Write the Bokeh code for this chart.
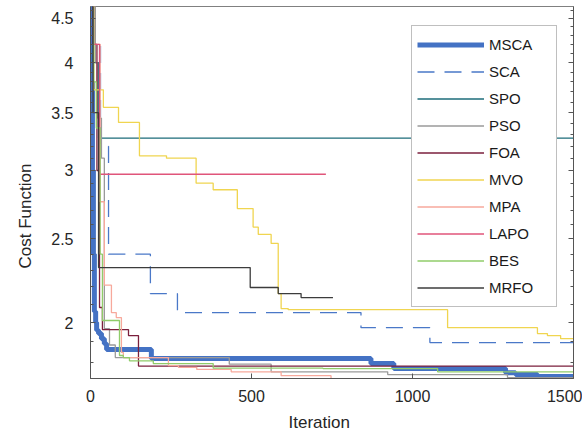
from bokeh.plotting import figure
from bokeh.models import Range1d, FixedTicker, LogAxis, Legend, LegendItem, CustomJSTickFormatter, Title
from bokeh.embed import file_html
from bokeh.resources import INLINE

# ---- data (iteration at which value starts, value) ----
MSCA_it = [0, 3, 6, 9, 12, 16, 19, 25, 34, 43, 50, 189, 871, 942, 1289, 1320, 1388, 1500]
MSCA_val = [4.7, 3.8, 3.0, 2.4, 2.06, 2.0, 1.96, 1.942, 1.916, 1.89, 1.861, 1.817, 1.793, 1.769, 1.750, 1.741, 1.732, 1.732]

SCA_it = [0, 10, 31, 56, 186, 270, 840, 1054, 1500]
SCA_val = [4.7, 4.2, 3.2, 2.40, 2.16, 2.054, 1.973, 1.896, 1.896]

SPO_it = [0, 8, 25, 1500]
SPO_val = [4.7, 4.0, 3.27, 3.27]

PSO_it = [0, 15, 22, 34, 43, 59, 77, 431, 561, 923, 1295, 1500]
PSO_val = [4.7, 4.0, 3.45, 3.1, 1.968, 1.884, 1.822, 1.79, 1.754, 1.741, 1.727, 1.727]

FOA_it = [0, 8, 20, 28, 37, 118, 149, 1500]
FOA_val = [4.7, 4.2, 3.0, 2.082, 1.963, 1.932, 1.781, 1.781]

MVO_it = [0, 10, 40, 87, 152, 236, 328, 381, 456, 505, 521, 561, 583, 592, 614, 1109, 1388, 1419, 1460, 1500]
MVO_val = [4.7, 3.72, 3.55, 3.41, 3.12, 3.10, 2.90, 2.85, 2.71, 2.58, 2.53, 2.47, 2.16, 2.076, 2.07, 1.973, 1.942, 1.932, 1.916, 1.916]

MPA_it = [0, 10, 30, 43, 65, 80, 96, 102, 242, 273, 330, 437, 592, 747, 800]
MPA_val = [4.7, 4.2, 2.76, 2.21, 2.054, 2.027, 1.847, 1.822, 1.783, 1.775, 1.765, 1.754, 1.736, 1.722, 1.718]

LAPO_it = [0, 10, 28, 731]
LAPO_val = [4.7, 4.2, 2.97, 2.97]

BES_it = [0, 10, 18, 30, 37, 90, 102, 121, 195, 381, 722, 1078, 1500]
BES_val = [4.7, 3.8, 3.36, 2.4, 2.011, 1.832, 1.822, 1.806, 1.793, 1.771, 1.769, 1.754, 1.754]

MRFO_it = [0, 8, 25, 496, 583, 654, 753]
MRFO_val = [4.7, 3.5, 2.316, 2.196, 2.161, 2.138, 2.138]

x_ticks = [0, 500, 1000, 1500]
y_ticks = [2, 2.5, 3, 3.5, 4, 4.5]
y_minor = [1.8, 1.9, 2.1, 2.2, 2.3, 2.4, 2.6, 2.7, 2.8, 2.9, 3.1, 3.2, 3.3, 3.4,
           3.6, 3.7, 3.8, 3.9, 4.1, 4.2, 4.3, 4.4, 4.6]

FONT = "Liberation Sans"
AXC = "#555555"

p = figure(width=582, height=439, x_range=Range1d(0, 1500), y_range=Range1d(1.723, 4.645),
           y_axis_type="log", output_backend="svg", toolbar_location=None,
           min_border_left=89, min_border_right=9, min_border_top=6, min_border_bottom=61)
p.grid.visible = False
p.outline_line_color = "#808080"
p.background_fill_color = "white"
p.border_fill_color = "white"

series = [
    ("MSCA", MSCA_it, MSCA_val, "#4472c4", 5, "solid"),
    ("SCA", SCA_it, SCA_val, "#4a78c8", 1.3, "17 10"),
    ("SPO", SPO_it, SPO_val, "#1d6c7a", 1.3, "solid"),
    ("PSO", PSO_it, PSO_val, "#9a9a9a", 1.3, "solid"),
    ("FOA", FOA_it, FOA_val, "#7b1f3c", 1.3, "solid"),
    ("MVO", MVO_it, MVO_val, "#f0d550", 1.3, "solid"),
    ("MPA", MPA_it, MPA_val, "#f7a99c", 1.3, "solid"),
    ("LAPO", LAPO_it, LAPO_val, "#e0557a", 1.3, "solid"),
    ("BES", BES_it, BES_val, "#90cc6a", 1.3, "solid"),
    ("MRFO", MRFO_it, MRFO_val, "#3c3c3c", 1.3, "solid"),
]
items = []
for name, xs, ys, col, w, dash in series:
    r = p.step(xs, ys, mode="after", line_color=col, line_width=w, line_dash=dash)
    items.append(LegendItem(label=name, renderers=[r]))

legend = Legend(items=items, location=(321, 71), orientation="vertical",
                label_text_font=FONT, label_text_font_size="15px", label_text_color="#1a1a1a",
                glyph_width=67, glyph_height=27, label_height=27, label_width=62,
                spacing=0, padding=5, margin=0, label_standoff=5,
                border_line_color="#808080", border_line_width=1,
                background_fill_color="white", background_fill_alpha=1)
p.add_layout(legend)

# x axis
xa = p.xaxis[0]
xa.ticker = FixedTicker(ticks=x_ticks)
xa.minor_tick_line_color = None
xa.major_tick_in = 5
xa.major_tick_out = 0
xa.axis_line_color = AXC
xa.major_tick_line_color = AXC
xa.major_label_text_font = FONT
xa.major_label_text_font_size = "16px"
xa.major_label_text_color = "#262626"
xa.major_label_standoff = 11

# y axis
ya = p.yaxis[0]
ya.ticker = FixedTicker(ticks=y_ticks, minor_ticks=y_minor)
ya.formatter = CustomJSTickFormatter(code="return (Math.round(tick*10)/10).toString();")
ya.major_tick_in = 5
ya.major_tick_out = 0
ya.minor_tick_in = 3
ya.minor_tick_out = 0
ya.axis_line_color = AXC
ya.major_tick_line_color = AXC
ya.minor_tick_line_color = AXC
ya.major_label_text_font = FONT
ya.major_label_text_font_size = "16px"
ya.major_label_text_color = "#262626"
ya.major_label_standoff = 17

# axis titles as side titles (placed like the reference)
p.add_layout(Title(text="Cost Function", align="left", offset=110, standoff=27,
                   text_font=FONT, text_font_size="17px", text_font_style="normal",
                   text_color="#262626"), "left")
p.add_layout(Title(text="Iteration", align="left", offset=198, standoff=13,
                   vertical_align="bottom",
                   text_font=FONT, text_font_size="17px", text_font_style="normal",
                   text_color="#262626"), "below")

# mirrored right axis (ticks only, no labels)
ra = LogAxis(ticker=FixedTicker(ticks=y_ticks, minor_ticks=y_minor),
             formatter=CustomJSTickFormatter(code="return '';"),
             major_tick_in=5, major_tick_out=0, minor_tick_in=3, minor_tick_out=0,
             axis_line_color=AXC, major_tick_line_color=AXC, minor_tick_line_color=AXC,
             major_label_standoff=0)
p.add_layout(ra, "right")

open("out.html", "w").write(file_html(p, INLINE))
